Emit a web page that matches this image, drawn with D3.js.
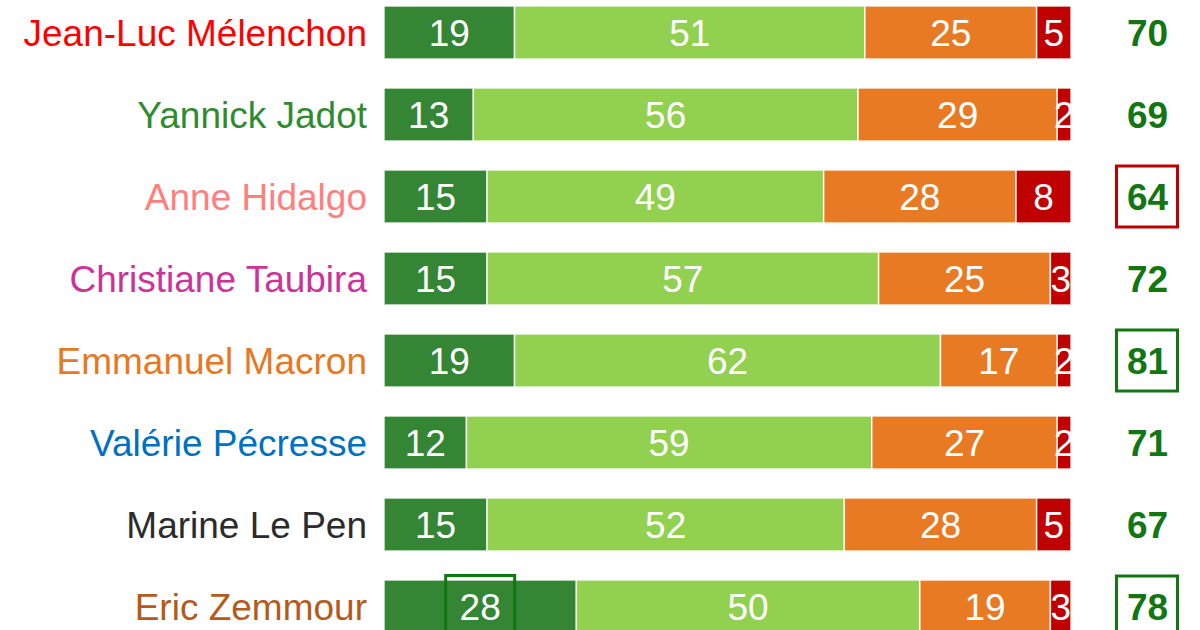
<!DOCTYPE html>
<html>
<head>
<meta charset="utf-8">
<script src="https://cdn.jsdelivr.net/npm/d3@7"></script>
<style>
  html, body { margin: 0; padding: 0; background: #fff; }
  svg { display: block; font-family: "Liberation Sans", Arial, sans-serif; }
</style>
</head>
<body>
<svg id="chart"></svg>
<script>
// candidats et couleurs des noms
const candidats = ["Jean-Luc Mélenchon", "Yannick Jadot", "Anne Hidalgo", "Christiane Taubira",
  "Emmanuel Macron", "Valérie Pécresse", "Marine Le Pen", "Eric Zemmour"];
const couleursNoms = ["#ff0000", "#2e8b2e", "#ff7f7f", "#cc3399", "#e87722", "#0070c0", "#2b2b2b", "#b5591c"];

// réponses en % (tout à fait, plutôt, plutôt pas, pas du tout)
const toutAFait = [19, 13, 15, 15, 19, 12, 15, 28];
const plutot = [51, 56, 49, 57, 62, 59, 52, 50];
const plutotPas = [25, 29, 28, 25, 17, 27, 28, 19];
const pasDuTout = [5, 2, 8, 3, 2, 2, 5, 3];
const totalPositif = [70, 69, 64, 72, 81, 71, 67, 78];

const couleursSeg = ["#348534", "#92d050", "#e87a24", "#c00000"];

// encadrés
const encadreTotal = { "Anne Hidalgo": "#c00000", "Emmanuel Macron": "#117711", "Eric Zemmour": "#117711" };
const encadreSegment = { "Eric Zemmour": "#117711" };

const width = 1200, height = 630;
const svg = d3.select("#chart").attr("width", width).attr("height", height);

const x = d3.scaleLinear().domain([0, 100]).range([384, 1071]);
const y = d3.scaleBand()
  .domain(candidats)
  .range([-8.5, 647.5])
  .paddingInner(29 / 82)
  .paddingOuter(14.5 / 82);

const rows = candidats.map((nom, i) => {
  const vals = [toutAFait[i], plutot[i], plutotPas[i], pasDuTout[i]];
  let cum = 0;
  const segs = vals.map((v, k) => {
    const s = { nom, k, v, x0: cum, x1: cum + v };
    cum += v;
    return s;
  });
  return { nom, i, segs, total: totalPositif[i] };
});

const g = svg.append("g");

const row = g.selectAll("g.row")
  .data(rows)
  .enter()
  .append("g")
  .attr("class", "row");

// segments
row.selectAll("rect")
  .data(d => d.segs)
  .enter()
  .append("rect")
  .attr("x", d => x(d.x0))
  .attr("y", d => y(d.nom))
  .attr("width", d => x(d.x1) - x(d.x0))
  .attr("height", y.bandwidth())
  .attr("fill", d => couleursSeg[d.k])
  .attr("stroke", "#fff")
  .attr("stroke-opacity", 0.85)
  .attr("stroke-width", 1.5);

// valeurs
row.selectAll("text.val")
  .data(d => d.segs)
  .enter()
  .append("text")
  .attr("class", "val")
  .attr("x", d => (x(d.x0) + x(d.x1)) / 2)
  .attr("y", d => y(d.nom) + y.bandwidth() / 2)
  .attr("dy", "0.36em")
  .attr("text-anchor", "middle")
  .attr("fill", "#fff")
  .style("font-size", "37px")
  .text(d => d.v);

// encadré autour du premier segment
row.filter(d => encadreSegment[d.nom])
  .append("rect")
  .attr("x", d => (x(d.segs[0].x0) + x(d.segs[0].x1)) / 2 - 34.5)
  .attr("y", d => y(d.nom) + y.bandwidth() / 2 - 31)
  .attr("width", 69)
  .attr("height", 64)
  .attr("fill", "none")
  .attr("stroke", d => encadreSegment[d.nom])
  .attr("stroke-width", 3);

// noms
row.append("text")
  .attr("x", 367)
  .attr("y", d => y(d.nom) + y.bandwidth() / 2)
  .attr("dy", "0.36em")
  .attr("text-anchor", "end")
  .attr("fill", d => couleursNoms[d.i])
  .style("font-size", "37px")
  .text(d => d.nom);

// totaux
const xTotal = 1147;
row.append("text")
  .attr("x", xTotal + 0.5)
  .attr("y", d => y(d.nom) + y.bandwidth() / 2)
  .attr("dy", "0.36em")
  .attr("text-anchor", "middle")
  .attr("fill", "#127612")
  .style("font-size", "37px")
  .style("font-weight", "bold")
  .text(d => d.total);

row.filter(d => encadreTotal[d.nom])
  .append("rect")
  .attr("x", xTotal - 30.5)
  .attr("y", d => y(d.nom) + y.bandwidth() / 2 - 30.5)
  .attr("width", 61)
  .attr("height", 61)
  .attr("fill", "none")
  .attr("stroke", d => encadreTotal[d.nom])
  .attr("stroke-width", 3);
</script>
</body>
</html>
